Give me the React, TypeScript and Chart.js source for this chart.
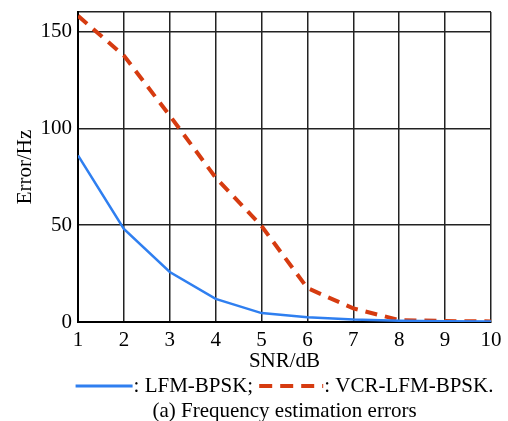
import React, { useEffect, useRef } from "react";
import { Chart, registerables } from "chart.js";

Chart.register(...registerables);

const snr = [1, 2, 3, 4, 5, 6, 7, 8, 9, 10];
const lfmBpsk = [86, 48, 25.8, 11.9, 4.6, 2.5, 1.3, 0.7, 0.4, 0.3];
const vcrLfmBpsk = [158, 137.5, 106.5, 74.5, 49.5, 17.5, 7, 1, 0.5, 0.3];
const yTicks = [0, 50, 100, 150];

const seriesNames = ["LFM-BPSK", "VCR-LFM-BPSK"];
const caption = "(a) Frequency estimation errors";

const FONT = "'Liberation Serif', 'Times New Roman', serif";
const SIZE = 21;
const BLUE = "#2f7ff0";
const RED = "#d63b10";

// Draws the legend row and the figure caption below the x-axis title
const footerPlugin = {
  id: "footer",
  afterDraw(chart: any) {
    const { ctx, chartArea } = chart;
    const cx = (chartArea.left + chartArea.right) / 2;
    ctx.save();
    ctx.font = `${SIZE}px ${FONT}`;
    ctx.textBaseline = "middle";
    ctx.fillStyle = "#000";

    const legendY = 386;
    const sample1 = 57;
    const sample2 = 64;
    const gap = 1;
    const t1 = `: ${seriesNames[0]};`;
    const t2 = `: ${seriesNames[1]}.`;
    const w1 = ctx.measureText(t1).width;
    const w2 = ctx.measureText(t2).width;
    const spacer = 6;
    const total = sample1 + gap + w1 + spacer + sample2 + gap + w2;
    let x = cx - total / 2;

    ctx.strokeStyle = BLUE;
    ctx.lineWidth = 3;
    ctx.setLineDash([]);
    ctx.beginPath();
    ctx.moveTo(x, legendY);
    ctx.lineTo(x + sample1, legendY);
    ctx.stroke();
    x += sample1 + gap;
    ctx.textAlign = "left";
    ctx.fillText(t1, x, legendY);
    x += w1 + spacer;

    ctx.strokeStyle = RED;
    ctx.lineWidth = 4;
    ctx.setLineDash([13, 8]);
    ctx.beginPath();
    ctx.moveTo(x, legendY);
    ctx.lineTo(x + sample2, legendY);
    ctx.stroke();
    ctx.setLineDash([]);
    x += sample2 + gap;
    ctx.fillText(t2, x, legendY);

    ctx.textAlign = "center";
    ctx.fillText(caption, cx, 411);
    ctx.restore();
  },
};

export default function App() {
  const canvasRef = useRef<HTMLCanvasElement | null>(null);

  useEffect(() => {
    if (!canvasRef.current) return;
    const chart = new Chart(canvasRef.current, {
      type: "line",
      data: {
        datasets: [
          {
            label: seriesNames[0],
            data: snr.map((s, i) => ({ x: s, y: lfmBpsk[i] })),
            borderColor: BLUE,
            borderWidth: 2.5,
            pointRadius: 0,
            tension: 0,
            fill: false,
          },
          {
            label: seriesNames[1],
            data: snr.map((s, i) => ({ x: s, y: vcrLfmBpsk[i] })),
            borderColor: RED,
            borderWidth: 4,
            borderDash: [12, 8],
            pointRadius: 0,
            tension: 0,
            fill: false,
          },
        ],
      },
      options: {
        responsive: false,
        animation: false,
        layout: { padding: { top: 12, right: 17, bottom: 47, left: 0 } },
        plugins: {
          legend: { display: false },
          tooltip: { enabled: false },
        },
        scales: {
          x: {
            type: "linear",
            min: 1,
            max: 10,
            ticks: {
              stepSize: 1,
              color: "#000",
              font: { family: FONT, size: SIZE },
              padding: 6,
              maxRotation: 0,
            },
            grid: { color: "#222", lineWidth: 1.5, drawTicks: false },
            border: { color: "#000", width: 2 },
            title: {
              display: true,
              text: "SNR/dB",
              color: "#000",
              font: { family: FONT, size: SIZE },
              padding: { top: 0, bottom: 0 },
            },
            afterFit(scale: any) {
              scale.height = 52;
              scale.paddingLeft = 0;
              scale.paddingRight = 0;
            },
          },
          y: {
            type: "linear",
            min: 0,
            max: 160,
            afterBuildTicks(scale: any) {
              scale.ticks = [...yTicks, 160].map((v) => ({ value: v }));
            },
            ticks: {
              color: "#000",
              font: { family: FONT, size: SIZE },
              padding: 6,
              callback: (v: any) => (yTicks.includes(Number(v)) ? String(v) : ""),
            },
            grid: { color: "#222", lineWidth: 1.5, drawTicks: false },
            border: { color: "#000", width: 2 },
            title: {
              display: true,
              text: "Error/Hz",
              color: "#000",
              font: { family: FONT, size: SIZE },
              padding: { top: 13, bottom: 4 },
            },
            afterFit(scale: any) {
              scale.width = 78;
              scale.paddingTop = 0;
              scale.paddingBottom = 0;
            },
          },
        },
      },
      plugins: [footerPlugin],
    });
    return () => chart.destroy();
  }, []);

  return (
    <div style={{ position: "absolute", left: 0, top: 0, width: 508, height: 421, background: "#fff" }}>
      <canvas ref={canvasRef} width={508} height={421} style={{ width: 508, height: 421 }} />
    </div>
  );
}
